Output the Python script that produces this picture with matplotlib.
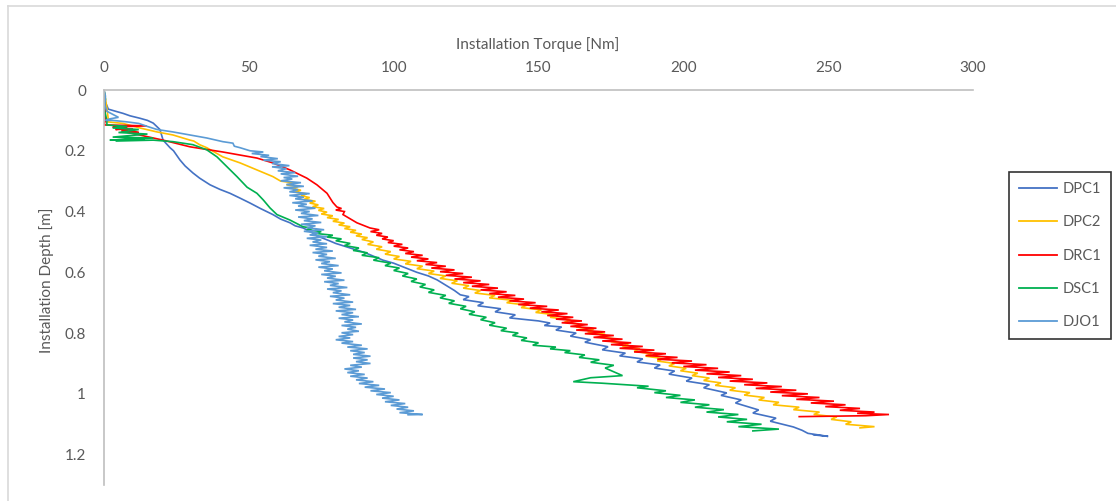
import matplotlib
matplotlib.use("Agg")
import matplotlib.pyplot as plt
from matplotlib.lines import Line2D

# ---------------- data (torque [Nm], depth [m]) ----------------
series_names = ["DPC1", "DPC2", "DRC1", "DSC1", "DJO1"]
series_colors = ["#4472C4", "#FFC000", "#FF0000", "#00B050", "#5B9BD5"]

dpc1_pts = [(0, 0), (0.3, 0.02), (0.5, 0.04), (1.5, 0.063), (4, 0.07), (6.6, 0.077), (9, 0.085),
            (12.4, 0.093), (15, 0.1), (17, 0.109), (19.3, 0.13), (20.4, 0.165), (22.8, 0.19), (24, 0.2),
            (26.2, 0.23), (28, 0.25), (30.7, 0.273), (33, 0.29), (36.6, 0.312), (40, 0.327), (43.5, 0.34),
            (47, 0.356), (50.4, 0.372), (54, 0.39), (58.3, 0.41), (61, 0.425), (64.2, 0.437), (66, 0.447),
            (68.7, 0.454), (72, 0.47), (73.5, 0.48), (78, 0.497), (80, 0.505), (85, 0.52), (90, 0.535),
            (96.3, 0.56), (100, 0.57), (108, 0.6), (112, 0.612), (115, 0.625), (121, 0.66), (123, 0.674),
            (126, 0.68), (124, 0.69), (131, 0.70), (129, 0.71), (137, 0.72), (135, 0.73), (142, 0.74),
            (140, 0.75), (150, 0.76), (154, 0.767), (152, 0.775), (158, 0.78), (156, 0.79), (163, 0.80),
            (161, 0.81), (168, 0.822), (166, 0.83), (174, 0.845), (172, 0.855), (180, 0.866), (178, 0.875),
            (186, 0.885), (184, 0.895), (192, 0.905), (190, 0.915), (197, 0.925), (195, 0.935), (203, 0.948),
            (201, 0.958), (209, 0.97), (207, 0.98), (215, 0.997), (213, 1.005), (220, 1.02), (218, 1.03),
            (226, 1.053), (224, 1.063), (232, 1.08), (230, 1.09), (238, 1.109), (241, 1.12), (243, 1.13),
            (250, 1.14), (245, 1.135)]

dpc2_pts = [(0, 0), (0.5, 0.03), (1, 0.06), (1.4, 0.09), (1.4, 0.105), (6.6, 0.11), (12.4, 0.125),
            (18.3, 0.138), (23.8, 0.148), (29.7, 0.165), (31, 0.168), (33, 0.18), (35.5, 0.19), (41, 0.22),
            (47, 0.24), (52.8, 0.263), (58.3, 0.285), (61, 0.30), (66, 0.306), (63, 0.312), (67, 0.318),
            (65, 0.324), (68, 0.33), (66, 0.336), (70, 0.342), (68, 0.348), (71, 0.354), (69, 0.36),
            (73, 0.366), (71, 0.372), (74, 0.378), (72, 0.384), (76, 0.39), (74, 0.396), (77, 0.402),
            (75, 0.408), (79, 0.414), (77, 0.42), (81, 0.426), (79, 0.432), (83, 0.438), (81, 0.444),
            (85, 0.45), (83, 0.456), (87, 0.462), (85, 0.468), (89, 0.474), (87, 0.48), (91, 0.486),
            (89, 0.492), (93, 0.50), (91, 0.508), (96, 0.516), (94, 0.524), (99, 0.532), (97, 0.54),
            (102, 0.548), (100, 0.556), (106, 0.564), (104, 0.572), (110, 0.58), (108, 0.588), (114, 0.596),
            (112, 0.604), (118, 0.612), (116, 0.62), (122, 0.628), (120, 0.636), (126, 0.644), (124, 0.652),
            (130, 0.66), (128, 0.668), (135, 0.676), (133, 0.684), (141, 0.692), (139, 0.70), (146, 0.708),
            (144, 0.716), (151, 0.724), (149, 0.732), (156, 0.74), (154, 0.748), (161, 0.756), (159, 0.764),
            (165, 0.772), (163, 0.78), (169, 0.788), (167, 0.796), (173, 0.804), (171, 0.812), (177, 0.82),
            (175, 0.828), (181, 0.836), (179, 0.844), (185, 0.852), (183, 0.86), (189, 0.868), (187, 0.876),
            (193, 0.884), (191, 0.892), (197, 0.90), (195, 0.908), (201, 0.916), (199, 0.924), (205, 0.932),
            (203, 0.94), (209, 0.948), (207, 0.956), (213, 0.964), (211, 0.972), (218, 0.98), (216, 0.988),
            (223, 0.996), (221, 1.004), (228, 1.012), (226, 1.02), (233, 1.028), (231, 1.036), (240, 1.044),
            (238, 1.052), (247, 1.06), (245, 1.068), (253, 1.076), (251, 1.084), (258, 1.092), (256, 1.10),
            (266, 1.108), (261, 1.112)]

drc1_pts = [(0, 0), (0.3, 0.05), (0.5, 0.1), (0, 0.115), (14.7, 0.118), (3, 0.122), (8, 0.125), (4, 0.13),
            (10, 0.128), (6, 0.135), (12, 0.14), (7, 0.137), (20.4, 0.165), (29.7, 0.187), (41, 0.204),
            (52.8, 0.224), (58.3, 0.24), (64.2, 0.263), (70, 0.29), (73.5, 0.312), (77, 0.34), (79, 0.37),
            (80.4, 0.385), (82, 0.39), (80, 0.395), (83, 0.40), (82.5, 0.41), (87.3, 0.437), (91.8, 0.454),
            (95, 0.46), (92, 0.466), (96, 0.472), (94, 0.478), (98, 0.484), (96, 0.49), (100, 0.496),
            (98, 0.502), (103, 0.508), (100, 0.514), (105, 0.52), (102, 0.526), (107, 0.532), (104, 0.538),
            (110, 0.544), (106, 0.55), (112, 0.556), (108, 0.562), (115, 0.568), (111, 0.574), (118, 0.58),
            (113, 0.586), (121, 0.592), (116, 0.598), (124, 0.604), (118, 0.61), (127, 0.616), (121, 0.622),
            (130, 0.628), (124, 0.634), (133, 0.64), (127, 0.646), (136, 0.652), (130, 0.658), (139, 0.664),
            (133, 0.67), (142, 0.676), (136, 0.682), (145, 0.688), (140, 0.694), (149, 0.70), (143, 0.706),
            (153, 0.712), (147, 0.718), (157, 0.724), (151, 0.73), (160, 0.736), (153, 0.742), (162, 0.748),
            (156, 0.754), (165, 0.76), (158, 0.766), (167, 0.772), (161, 0.778), (170, 0.784), (163, 0.79),
            (173, 0.796), (166, 0.802), (176, 0.808), (169, 0.814), (179, 0.82), (172, 0.826), (182, 0.832),
            (175, 0.838), (186, 0.844), (178, 0.85), (190, 0.856), (183, 0.862), (194, 0.868), (187, 0.874),
            (198, 0.88), (191, 0.886), (203, 0.892), (196, 0.898), (208, 0.904), (200, 0.91), (212, 0.916),
            (204, 0.922), (216, 0.928), (208, 0.934), (220, 0.94), (212, 0.946), (224, 0.952), (216, 0.958),
            (229, 0.964), (221, 0.97), (234, 0.976), (225, 0.982), (239, 0.988), (230, 0.994), (243, 1.0),
            (234, 1.006), (247, 1.012), (239, 1.018), (252, 1.024), (244, 1.03), (256, 1.036), (249, 1.042),
            (261, 1.048), (254, 1.054), (266, 1.06), (260, 1.064), (271, 1.068), (263, 1.072), (240, 1.075)]

dsc1_pts = [(0, 0), (0.5, 0.03), (0, 0.06), (1, 0.1), (1, 0.115), (8, 0.12), (3, 0.125), (12, 0.13),
            (5, 0.14), (15, 0.145), (3, 0.155), (17, 0.158), (2, 0.165), (14, 0.16), (4, 0.168), (17, 0.165),
            (23.8, 0.17), (30.7, 0.18), (35.5, 0.197), (39, 0.22), (42.5, 0.253), (45.9, 0.285), (49.4, 0.32),
            (52.8, 0.34), (55, 0.362), (57.3, 0.388), (59.7, 0.41), (64.2, 0.428), (68.7, 0.45), (72, 0.455),
            (70, 0.46), (75, 0.466), (73, 0.472), (79, 0.478), (77, 0.484), (82, 0.49), (80, 0.496),
            (85, 0.505), (83, 0.512), (88, 0.52), (86, 0.528), (91, 0.536), (89, 0.544), (95, 0.552),
            (93, 0.56), (99, 0.57), (97, 0.578), (102, 0.586), (100, 0.594), (105, 0.604), (103, 0.612),
            (108, 0.622), (106, 0.63), (111, 0.64), (109, 0.648), (114, 0.658), (112, 0.666), (118, 0.676),
            (116, 0.684), (121, 0.694), (119, 0.702), (125, 0.712), (123, 0.72), (128, 0.73), (126, 0.738),
            (132, 0.748), (130, 0.756), (135, 0.766), (133, 0.774), (139, 0.784), (137, 0.792), (143, 0.80),
            (141, 0.808), (146, 0.816), (144, 0.824), (150, 0.832), (148, 0.84), (156, 0.846), (154, 0.852),
            (161, 0.858), (159, 0.864), (166, 0.872), (164, 0.88), (171, 0.888), (168, 0.896), (176, 0.906),
            (173, 0.915), (179, 0.94), (168, 0.947), (162, 0.96), (172, 0.965), (188, 0.975), (184, 0.98),
            (194, 0.99), (190, 0.996), (199, 1.005), (194, 1.012), (204, 1.02), (199, 1.028), (209, 1.036),
            (204, 1.044), (214, 1.052), (208, 1.06), (219, 1.068), (212, 1.076), (222, 1.084), (215, 1.092),
            (227, 1.1), (219, 1.108), (233, 1.116), (224, 1.122)]

djo1_pts = [(0, 0), (0.5, 0.02), (0.3, 0.05), (1, 0.07), (3, 0.08), (5, 0.09), (2, 0.095), (0.5, 0.1),
            (3, 0.1), (8, 0.105), (12, 0.11), (15, 0.12), (18.3, 0.13), (23.8, 0.138), (29.7, 0.148),
            (35.5, 0.158), (41, 0.17), (44.5, 0.175), (45, 0.185), (47, 0.19), (49.4, 0.197), (50.4, 0.200),
            (55, 0.204), (51, 0.209), (57, 0.215), (54, 0.219), (60, 0.226), (55, 0.231), (61, 0.236),
            (58, 0.242), (64, 0.249), (58, 0.253), (63, 0.259), (60, 0.266), (66, 0.272), (61, 0.276),
            (67, 0.284), (62, 0.288), (65, 0.293), (61, 0.299), (68, 0.305), (63, 0.311), (69, 0.317),
            (62, 0.322), (67, 0.328), (64, 0.335), (71, 0.341), (64, 0.347), (69, 0.353), (66, 0.358),
            (72, 0.365), (65, 0.371), (70, 0.376), (67, 0.382), (73, 0.389), (66, 0.395), (71, 0.400),
            (68, 0.406), (74, 0.413), (67, 0.418), (72, 0.424), (69, 0.430), (75, 0.436), (68, 0.442),
            (73, 0.447), (70, 0.453), (76, 0.460), (69, 0.465), (74, 0.471), (71, 0.477), (77, 0.483),
            (70, 0.488), (75, 0.494), (72, 0.500), (77, 0.506), (71, 0.511), (77, 0.518), (73, 0.524),
            (79, 0.530), (72, 0.535), (77, 0.541), (74, 0.547), (80, 0.554), (73, 0.559), (78, 0.565),
            (75, 0.571), (81, 0.578), (74, 0.583), (79, 0.589), (76, 0.595), (82, 0.602), (75, 0.607),
            (80, 0.613), (77, 0.619), (83, 0.626), (76, 0.631), (81, 0.637), (78, 0.643), (84, 0.650),
            (77, 0.655), (82, 0.661), (79, 0.667), (85, 0.674), (78, 0.679), (83, 0.685), (80, 0.691),
            (86, 0.698), (79, 0.703), (85, 0.709), (81, 0.715), (87, 0.722), (80, 0.727), (86, 0.733),
            (82, 0.739), (88, 0.746), (81, 0.751), (86, 0.757), (83, 0.763), (89, 0.770), (82, 0.775),
            (87, 0.781), (84, 0.787), (88, 0.794), (82, 0.799), (86, 0.805), (81, 0.811), (85, 0.816),
            (80, 0.822), (86, 0.828), (82, 0.833), (89, 0.840), (84, 0.846), (91, 0.852), (85, 0.858),
            (90, 0.864), (86, 0.870), (92, 0.876), (86, 0.882), (91, 0.888), (87, 0.894), (92, 0.900),
            (85, 0.906), (89, 0.912), (83, 0.918), (88, 0.924), (84, 0.930), (90, 0.936), (85, 0.942),
            (91, 0.948), (87, 0.954), (93, 0.960), (88, 0.966), (95, 0.972), (90, 0.978), (97, 0.984),
            (92, 0.990), (99, 0.996), (94, 1.002), (100, 1.008), (96, 1.014), (102, 1.020), (97, 1.026),
            (104, 1.032), (99, 1.038), (105, 1.044), (101, 1.050), (107, 1.056), (102, 1.062), (110, 1.068),
            (105, 1.069)]

x_ticks = [0, 50, 100, 150, 200, 250, 300]
y_ticks = [0, 0.2, 0.4, 0.6, 0.8, 1.0, 1.2]
y_tick_labels = ["0", "0.2", "0.4", "0.6", "0.8", "1", "1.2"]
x_title = "Installation Torque [Nm]"
y_title = "Installation Depth [m]"

all_series = [dpc1_pts, dpc2_pts, drc1_pts, dsc1_pts, djo1_pts]

# ---------------- figure ----------------
W, H = 1116, 501
fig = plt.figure(figsize=(W / 100, H / 100), dpi=100)
fig.patch.set_facecolor("white")
plt.rcParams["font.family"] = ["Lato", "DejaVu Sans"]
text_color = "#595959"
grid_color = "#BFBFBF"

ax = fig.add_axes([104 / W, 1 - 485 / H, (973 - 104) / W, (485 - 90) / H])
for pts, name, col in zip(all_series, series_names, series_colors):
    xs = [p[0] for p in pts]
    ys = [p[1] for p in pts]
    ax.plot(xs, ys, color=col, lw=1.2, label=name, solid_joinstyle="miter")

ax.set_xlim(0, 300)
ax.set_ylim(1.3, 0)
ax.xaxis.tick_top()
ax.xaxis.set_label_position("top")
ax.set_xticks(x_ticks)
ax.set_yticks(y_ticks)
ax.set_yticklabels(y_tick_labels)
ax.tick_params(axis="both", length=0, labelsize=11, colors=text_color)
ax.tick_params(axis="x", pad=11)
ax.tick_params(axis="y", pad=13)
for s in ["right", "bottom"]:
    ax.spines[s].set_visible(False)
for s in ["top", "left"]:
    ax.spines[s].set_color(grid_color)
    ax.spines[s].set_linewidth(1.2)
ax.set_facecolor("none")

fig.text(538 / W, 1 - 45 / H, x_title, ha="center", va="center", fontsize=11, color=text_color)
fig.text(47 / W, 1 - 280 / H, y_title, ha="center", va="center", rotation=90, fontsize=11, color=text_color)

# legend
handles = [Line2D([0], [0], color=c, lw=1.3) for c in series_colors]
leg = fig.legend(handles, series_names, loc="upper left",
                 bbox_to_anchor=(1009 / W, 1 - 172 / H), frameon=True, fancybox=False,
                 fontsize=10.5, labelcolor=text_color, handlelength=2.6, labelspacing=1.32,
                 borderpad=0.7, handletextpad=0.35, borderaxespad=0)
leg.get_frame().set_edgecolor("black")
leg.get_frame().set_linewidth(1.2)
leg._legend_box.sep = 0

# chart-area border (top and left visible)
fig.add_artist(Line2D([8 / W, 1.0], [1 - 5.5 / H, 1 - 5.5 / H], color="#D9D9D9", lw=1.2))
fig.add_artist(Line2D([8 / W, 8 / W], [0, 1 - 5.5 / H], color="#D9D9D9", lw=1.2))

fig.savefig("out.png", dpi=100, facecolor="white")
